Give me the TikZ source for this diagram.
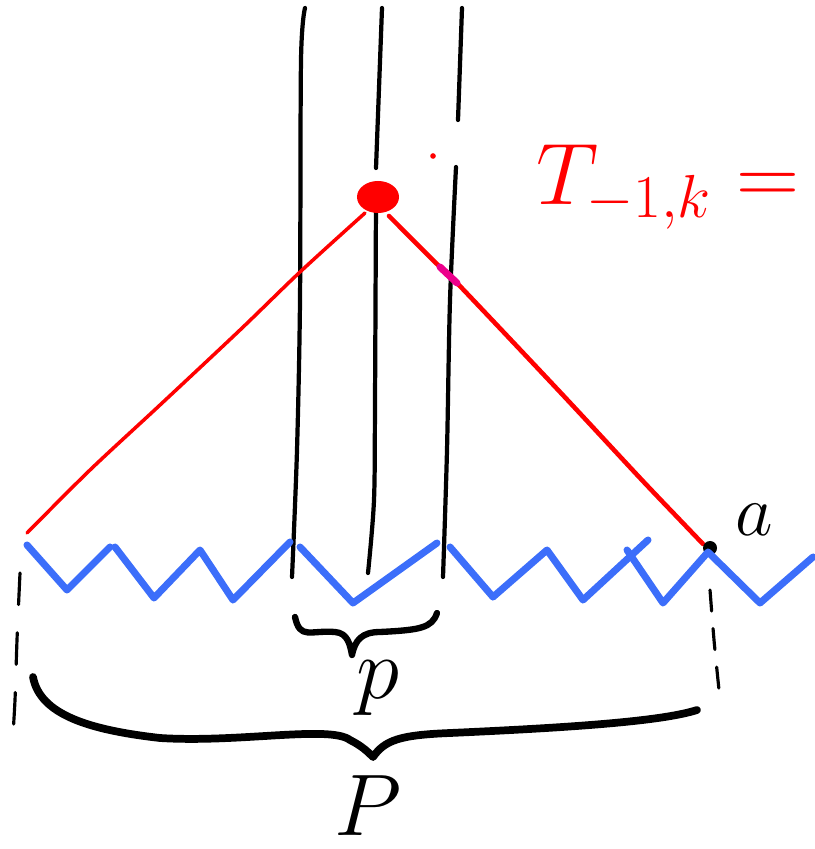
\documentclass[tikz,border=0pt]{standalone}
\usepackage{amsmath,amssymb}
\usepackage{tikz}

\begin{document}
\begin{tikzpicture}[x=0.01cm,y=-0.01cm,line cap=round,line join=round,
  wire/.style={line width=1.2pt},
  zig/.style={line width=2pt,color={rgb,255:red,60;green,110;blue,250}},
  ray/.style={line width=1pt,red},
  curly/.style={line width=1.8pt},
  guide/.style={line width=0.9pt,dash pattern=on 9pt off 8pt}]
 \useasboundingbox (0,0) rectangle (814,849);
 % vertical strands
 \draw[wire] plot[smooth] coordinates {(305,8) (301,60) (300,300) (297,450) (292,577)};
 \draw[wire] (382,8)--(376,168);
 \draw[wire] plot[smooth] coordinates {(376,198) (375,400) (374,500) (368,573)};
 \draw[wire] (462,8)--(458,120);
 \draw[wire] plot[smooth] coordinates {(456,167) (450,300) (447,450) (443,577)};
 % red cone
 \draw[ray] plot[smooth] coordinates {(365,213) (300,272) (240,330) (160,405) (90,470) (27,533)};
 \draw[ray,line width=1.3pt] plot[smooth] coordinates {(389,216) (440,267) (457,283) (560,392) (640,478) (680,520) (703,544)};
 \draw[magenta,line width=2pt] (440,267)--(457,283);
 \fill[red] (378,197) ellipse [x radius=0.21cm, y radius=0.16cm];
 \fill[red] (433,156) circle (0.8pt);
 \fill (710,548) circle (0.07cm);
 % blue zigzag
 \draw[zig] (27,545)--(67,590)--(110,547);
 \draw[zig] (115,547)--(154,598)--(200,550)--(233,600)--(290,542);
 \draw[zig] (300,547)--(353,603)--(437,543);
 \draw[zig] (450,547)--(493,597)--(547,550)--(583,600)--(648,540);
 \draw[zig] (627,550)--(663,603)--(708,552)--(760,603)--(813,557);
 % dashed guides
 \draw[guide] plot[smooth] coordinates {(20,573) (17,640) (15,700) (12,750)};
 \draw[guide,dash pattern=on 6pt off 5pt] plot[smooth] coordinates {(710,590) (714,640) (719,690)};
 % braces
 \draw[curly] (295,617) .. controls (300,640) and (310,630) .. (335,632)
   .. controls (348,633) and (350,645) .. (352,655)
   .. controls (355,640) and (362,632) .. (380,632)
   .. controls (420,630) and (432,628) .. (437,613);
 \draw[curly,line width=2.2pt] (33,677) .. controls (40,715) and (90,730) .. (160,738)
   .. controls (240,743) and (330,725) .. (350,740)
   .. controls (362,746) and (368,752) .. (373,757)
   .. controls (385,740) and (400,735) .. (450,733)
   .. controls (560,728) and (660,722) .. (697,710);
 % labels
 \node[red] (tlab) at (668,187) {\fontsize{23}{23}\selectfont $T_{-1,k} =$};
 \node (alab) at (754,520) {\fontsize{20}{20}\selectfont $a$};
 \node (plab) at (378,688) {\fontsize{24}{24}\selectfont $p$};
 \node[inner sep=0pt] (bigP) at (368,806) {\fontsize{28}{28}\selectfont $P$};
\end{tikzpicture}
\end{document}
